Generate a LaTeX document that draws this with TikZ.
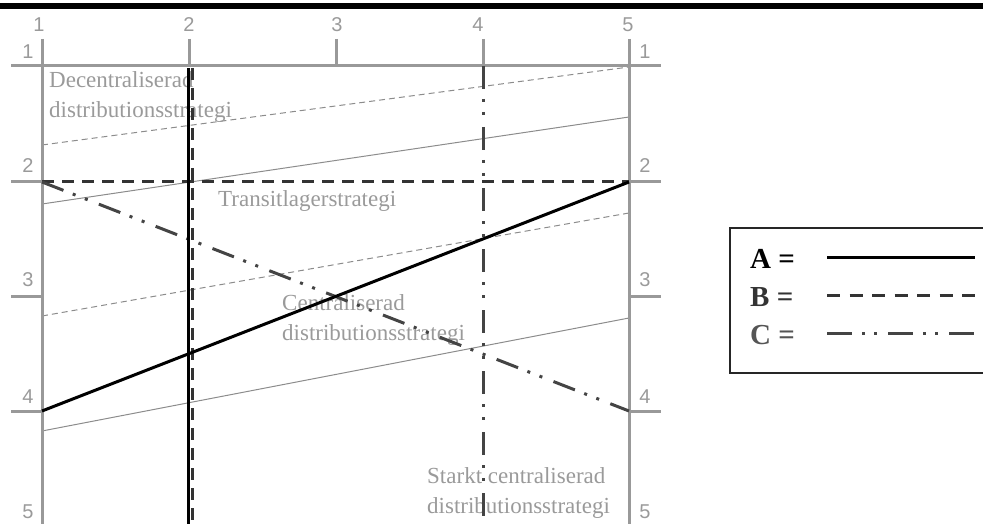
\documentclass[tikz,border=0pt]{standalone}
\usepackage{fontspec}
\setmainfont{Liberation Serif}
\newfontfamily\axisfont{Liberation Sans}
\definecolor{axisgray}{HTML}{999999}
\definecolor{thingray}{HTML}{8C8C8C}
\definecolor{lblgray}{HTML}{9A9A9A}
\definecolor{bcol}{HTML}{333333}
\definecolor{ccol}{HTML}{444444}
\definecolor{ctext}{HTML}{555555}
\begin{document}
\begin{tikzpicture}[x=1pt,y=-1pt,
  axis/.style={draw=axisgray, line width=3pt},
  thinsolid/.style={draw=thingray, line width=1pt},
  thindash/.style={thinsolid, dash pattern=on 6pt off 4pt},
  stratA/.style={draw=black, line width=3pt},
  stratB/.style={draw=bcol, line width=3pt, dash pattern=on 12pt off 8pt},
  stratC/.style={draw=ccol, line width=3pt, dash pattern=on 23pt off 10pt on 3pt off 10pt on 3pt off 12pt},
  legB/.style={draw=bcol, line width=3pt, dash pattern=on 13pt off 9.5pt},
  legC/.style={draw=ccol, line width=3pt, dash pattern=on 25pt off 10pt on 3pt off 9pt on 3pt off 11pt},
  numlbl/.style={text=lblgray, font=\axisfont\fontsize{20}{20}\selectfont, inner sep=0},
  stratlbl/.style={text=lblgray, font=\fontsize{23}{28}\selectfont, inner sep=0, anchor=base west},
  legtxt/.style={font=\bfseries\fontsize{29}{29}\selectfont, inner sep=0, anchor=base west}]
\useasboundingbox (0,0) rectangle (983,524);
\clip (0,0) rectangle (983,524);

% top bar
\fill[black] (0,3) rectangle (983,9);

% grid coordinates
\foreach \i/\x in {1/42,2/189,3/336,4/483,5/629}{
  \foreach \j/\y in {1/66,2/182,3/296,4/411,5/526}{
    \coordinate (p\i\j) at (\x,\y);
  }
  \coordinate (t\i) at (\x,39);
  \coordinate (b\i) at (\x,530);
}
\coordinate (lend1) at (11,66);
\coordinate (rend1) at (661,66);
\foreach \j/\y in {2/182,3/296,4/411,5/526}{
  \coordinate (l\j) at (11,\y);
  \coordinate (r\j) at (661,\y);
}

% column labels
\node[numlbl] (cl1) at (39,25) {1};
\node[numlbl] (cl2) at (189,25) {2};
\node[numlbl] (cl3) at (337,25) {3};
\node[numlbl] (cl4) at (478,25) {4};
\node[numlbl] (cl5) at (628,25) {5};
% row labels
\foreach \j/\y in {1/52,2/166,3/280,4/397,5/512}{
  \node[numlbl] (rl\j) at (28,\y) {\j};
  \node[numlbl] (rr\j) at (645,\y) {\j};
}

% thin gray lines
\coordinate (g1a) at (42,145); \coordinate (g1b) at (629,67);
\coordinate (g2a) at (42,204); \coordinate (g2b) at (629,117);
\coordinate (g3a) at (42,316); \coordinate (g3b) at (629,213);
\coordinate (g4a) at (42,431); \coordinate (g4b) at (629,318);
\draw[thindash] (g1a) -- (g1b);
\draw[thinsolid] (g2a) -- (g2b);
\draw[thindash] (g3a) -- (g3b);
\draw[thinsolid] (g4a) -- (g4b);

% axes
\draw[axis] (lend1) -- (rend1);
\foreach \j in {2,3,4,5}{
  \draw[axis] (l\j) -- (p1\j);
  \draw[axis] (p5\j) -- (r\j);
}
\draw[axis] (t1) -- (b1);
\draw[axis] (t5) -- (b5);
\foreach \i in {2,3,4}{\draw[axis] (t\i) -- (p\i1);}

% region labels
\node[stratlbl] (dec1) at (49,88) {Decentraliserad};
\node[stratlbl] (dec2) at (49,118) {distributionsstrategi};
\node[stratlbl] (tra) at (218,206) {Transitlagerstrategi};
\node[stratlbl] (cen1) at (282,310) {Centraliserad};
\node[stratlbl] (cen2) at (282,340) {distributionsstrategi};
\node[stratlbl] (sta1) at (427,483) {Starkt centraliserad};
\node[stratlbl] (sta2) at (427,513) {distributionsstrategi};

% strategy lines
\coordinate (aTop) at (188,68); \coordinate (aBot) at (188,530);
\coordinate (bTop) at (192,68); \coordinate (bBot) at (192,530);
\coordinate (cTop) at (483,66); \coordinate (cBot) at (483,530);
\draw[stratB] (p12) -- (p52);
\draw[stratB] (bTop) -- (bBot);
\draw[stratC] (p12) -- (p54);
\draw[stratC] (cTop) -- (cBot);
\draw[stratA] (aTop) -- (aBot);
\draw[stratA] (p14) -- (p52);

% legend
\draw[draw=black!85, line width=2pt] (730,228) rectangle (995,373);
\node[legtxt, text=black] (la) at (750,268) {A =};
\node[legtxt, text=bcol] (lb) at (750,306) {B =};
\node[legtxt, text=ctext] (lc) at (750,344) {C =};
\coordinate (la1) at (827,257); \coordinate (la2) at (975,257);
\coordinate (lb1) at (827,295); \coordinate (lb2) at (975,295);
\coordinate (lc1) at (827,333); \coordinate (lc2) at (975,333);
\draw[stratA] (la1) -- (la2);
\draw[legB] (lb1) -- (lb2);
\draw[legC] (lc1) -- (lc2);
\end{tikzpicture}
\end{document}
